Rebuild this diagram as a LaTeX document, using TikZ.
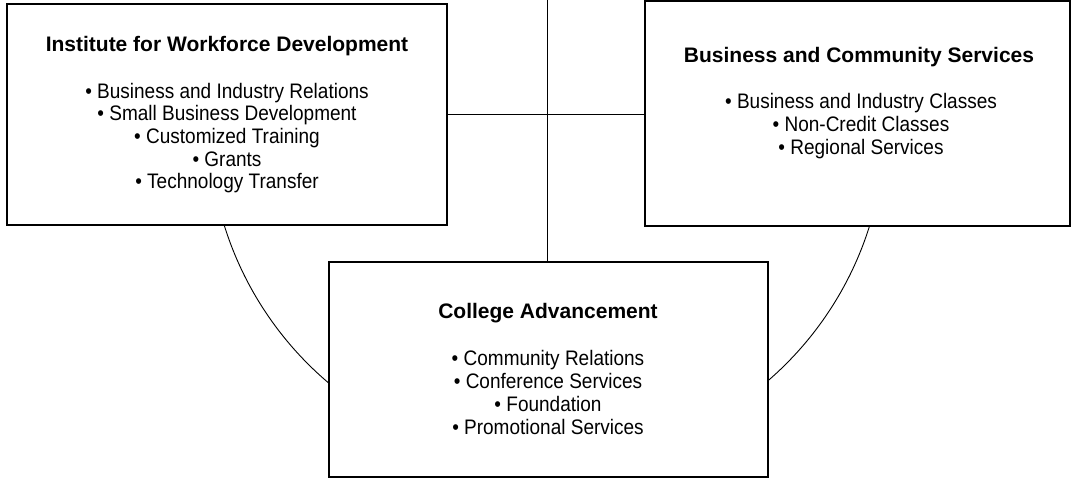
\documentclass[tikz,border=0pt]{standalone}
\usepackage{fontspec}
\setmainfont{Liberation Sans}
\newfontfamily\ttlfont{Liberation Sans}
\newfontfamily\bodyfont{Liberation Sans}[FakeStretch=0.905]
\begin{document}
\begin{tikzpicture}[x=1pt,y=1pt,
  box/.style={draw,line width=1.3pt,fill=white,rectangle,inner sep=0pt},
  conn/.style={line width=0.9pt},
  ttl/.style={anchor=base,inner sep=0pt,font=\ttlfont\bfseries\fontsize{21}{25}\selectfont},
  item/.style={anchor=base,inner sep=0pt,font=\bodyfont\fontsize{21}{25}\selectfont}]
\useasboundingbox (0,0) rectangle (1071,-480);
% boxes
\node[box,minimum width=440pt,minimum height=221pt] (lb) at (227,-114.5) {};
\node[box,minimum width=425pt,minimum height=225pt] (rb) at (857.5,-113.5) {};
\node[box,minimum width=439pt,minimum height=215pt] (cb) at (548.5,-369.5) {};
\coordinate (top) at (547,0);
\coordinate (C) at (547,-125);
% connectors
\draw[conn] (top) -- (top |- cb.north);
\draw[conn] (lb.east) -- (lb.east -| rb.west);
\draw[conn] (C) ++(197.21:338) arc[start angle=197.21,end angle=229.84,radius=338];
\draw[conn] (C) ++(-49.17:338) arc[start angle=-49.17,end angle=-17.39,radius=338];
% left texts
\node[ttl] (lt) at (227,-51) {Institute for Workforce Development};
\foreach \t [count=\i] in {Business and Industry Relations,Small Business Development,Customized Training,Grants,Technology Transfer}
  \node[item] (l\i) at (227,{-98-22.7*(\i-1)}) {• \t};
% right texts
\node[ttl] (rt) at (859,-62) {Business and Community Services};
\foreach \t [count=\i] in {Business and Industry Classes,Non-Credit Classes,Regional Services}
  \node[item] (r\i) at (861,{-108-23*(\i-1)}) {• \t};
% bottom texts
\node[ttl] (ct) at (548,-318) {College Advancement};
\foreach \t [count=\i] in {Community Relations,Conference Services,Foundation,Promotional Services}
  \node[item] (c\i) at (548,{-365-23*(\i-1)}) {• \t};
\end{tikzpicture}
\end{document}
